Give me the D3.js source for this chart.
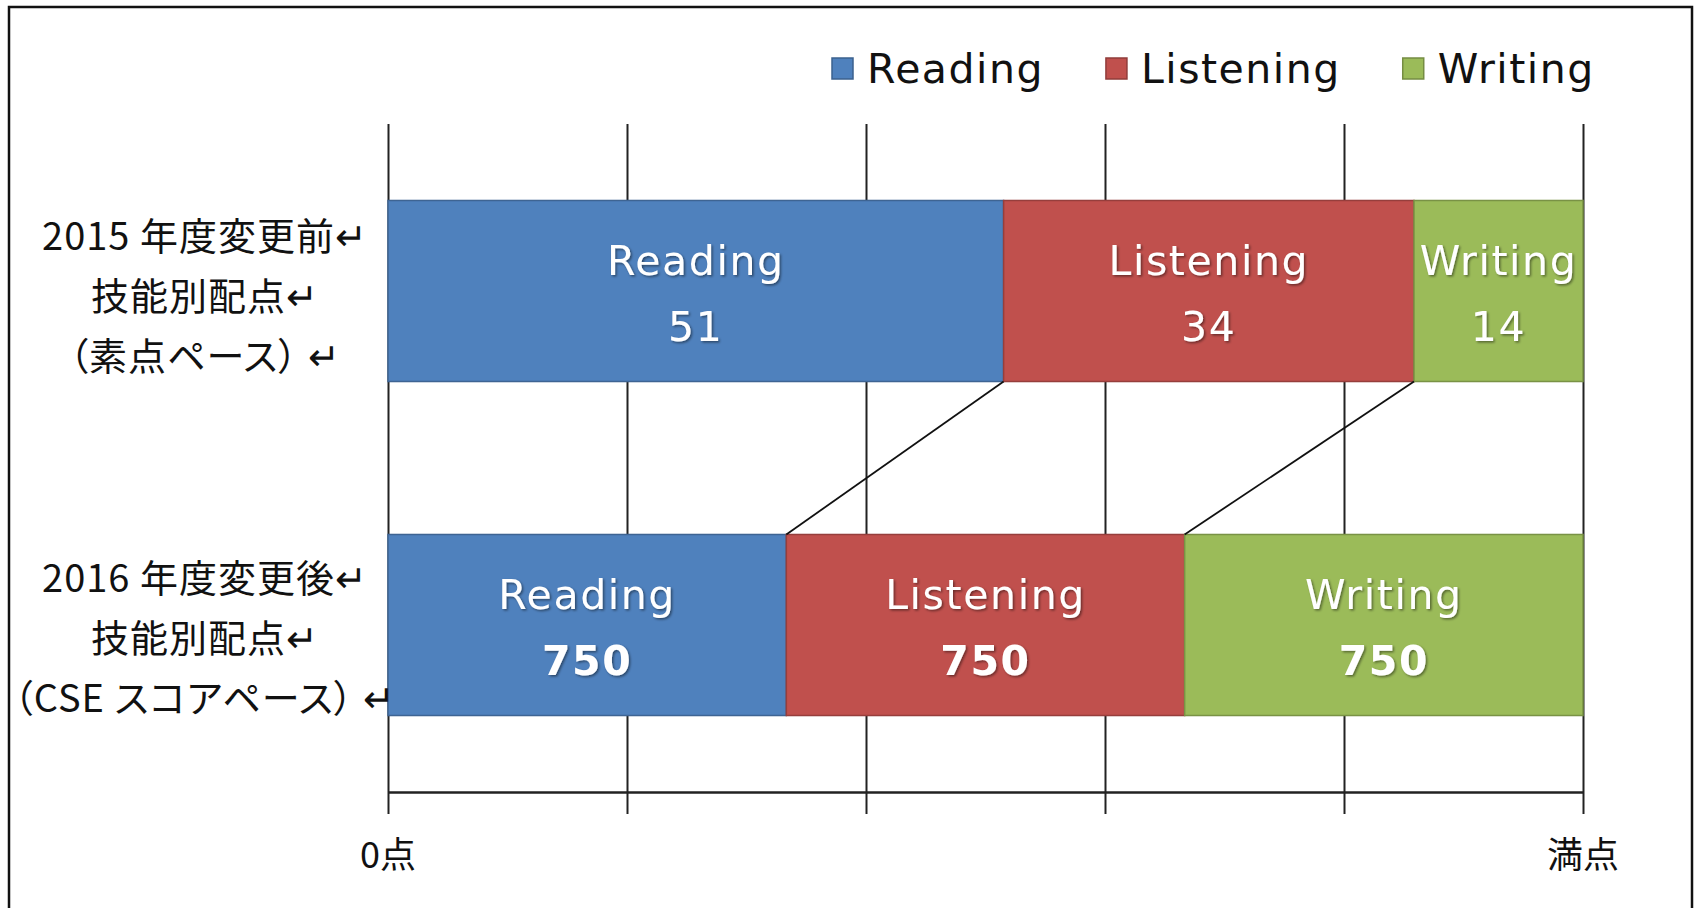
<!DOCTYPE html>
<html>
<head>
<meta charset="utf-8">
<script src="https://cdn.jsdelivr.net/npm/d3@7"></script>
<style>
  html, body { margin: 0; padding: 0; background: #fff; }
  svg { display: block; }
  .cat { font-feature-settings: "palt" 1; }
</style>
</head>
<body>
<div id="chart"></div>
<script>
// data
const categories = ["2015", "2016"];
const categoryLines = [
  ["2015 年度変更前↵", "技能別配点↵", "（素点ペース） ↵"],
  ["2016 年度変更後↵", "技能別配点↵", "（CSE スコアペース） ↵"]
];
const series = ["Reading", "Listening", "Writing"];
const scores2015 = [51, 34, 14];
const scores2016 = [750, 750, 750];
const colors = ["#4F81BD", "#C0504D", "#9BBB59"];
const gridTicks = [0, 0.2, 0.4, 0.6, 0.8, 1];
const endLabels = ["0点", "満点"];

const W = 1694, H = 908;
const plotL = 388, plotR = 1583, plotT = 124, plotB = 792;
const latin = "'DejaVu Sans', Verdana, sans-serif";
const cjk = "'Noto Sans CJK JP', 'Noto Sans', sans-serif";

const rows = categories.map((c, i) => {
  const vals = i === 0 ? scores2015 : scores2016;
  const r = { cat: c };
  series.forEach((s, j) => r[s] = vals[j]);
  return r;
});

const stacked = d3.stack().keys(series).offset(d3.stackOffsetExpand)(rows);

const svg = d3.select("#chart").append("svg")
  .attr("width", W).attr("height", H);

const defs = svg.append("defs");
defs.append("filter").attr("id", "shadow")
  .attr("x", "-10%").attr("y", "-20%").attr("width", "130%").attr("height", "150%")
  .append("feDropShadow")
  .attr("dx", 1.5).attr("dy", 1.5).attr("stdDeviation", 1.2)
  .attr("flood-color", "#000").attr("flood-opacity", 0.45);

// outer frame
svg.append("rect")
  .attr("x", 9).attr("y", 7).attr("width", 1683).attr("height", 1000)
  .attr("fill", "none").attr("stroke", "#111").attr("stroke-width", 2.5);

const x = d3.scaleLinear().domain([0, 1]).range([plotL, plotR]);
const y = d3.scaleBand().domain(categories).range([plotT, plotB])
  .paddingInner(0.458).paddingOuter(0.229);

// gridlines
svg.append("g").attr("class", "grid")
  .attr("transform", "translate(0," + plotB + ")")
  .call(d3.axisBottom(x).tickValues(gridTicks).tickSize(-(plotB - plotT)).tickFormat(""))
  .call(g => g.select(".domain").remove())
  .call(g => g.selectAll("line").attr("stroke", "#222").attr("stroke-width", 2));

// axis line with ticks below
svg.append("g").attr("class", "x axis")
  .attr("transform", "translate(0," + plotB + ")")
  .call(d3.axisBottom(x).tickValues(gridTicks).tickSize(22).tickSizeOuter(0).tickFormat(""))
  .call(g => g.select(".domain").attr("stroke", "#222").attr("stroke-width", 2.5))
  .call(g => g.selectAll("line").attr("stroke", "#222").attr("stroke-width", 2));

// bars
const layer = svg.selectAll("g.layer")
  .data(stacked)
  .enter().append("g")
  .attr("class", "layer")
  .attr("fill", (d, i) => colors[i])
  .attr("stroke", (d, i) => d3.color(colors[i]).darker(0.7))
  .attr("stroke-width", 1.5);

layer.selectAll("rect")
  .data(d => d)
  .enter().append("rect")
  .attr("x", d => x(d[0]))
  .attr("y", d => y(d.data.cat))
  .attr("width", d => x(d[1]) - x(d[0]))
  .attr("height", y.bandwidth());

// connector lines between the two bars
const links = series.slice(0, -1).map((s, i) => ({
  x1: x(stacked[i][0][1]), y1: y(categories[0]) + y.bandwidth(),
  x2: x(stacked[i][1][1]), y2: y(categories[1])
}));
svg.selectAll("line.link")
  .data(links)
  .enter().append("line")
  .attr("class", "link")
  .attr("x1", d => d.x1).attr("y1", d => d.y1)
  .attr("x2", d => d.x2).attr("y2", d => d.y2)
  .attr("stroke", "#111").attr("stroke-width", 1.8);

// in-bar labels
stacked.forEach((layerData, si) => {
  layerData.forEach((d, ci) => {
    const cx = (x(d[0]) + x(d[1])) / 2;
    const cy = y(d.data.cat) + y.bandwidth() / 2;
    const g = svg.append("g").attr("filter", "url(#shadow)")
      .attr("fill", "#fff").attr("font-family", latin).attr("text-anchor", "middle");
    g.append("text").attr("x", cx).attr("y", cy - 16)
      .attr("font-size", 41).attr("letter-spacing", 1.6)
      .text(series[si]);
    g.append("text").attr("x", cx).attr("y", cy + 50)
      .attr("font-size", 41).attr("letter-spacing", 1.6)
      .attr("font-weight", ci === 1 ? "bold" : "normal")
      .text(d.data[series[si]]);
  });
});

// category labels on the left
const blockShift = [5, 13.5];
categories.forEach((c, i) => {
  const cy = y(c) + y.bandwidth() / 2 + blockShift[i];
  svg.append("g").selectAll("text")
    .data(categoryLines[i])
    .enter().append("text")
    .attr("class", "cat")
    .attr("x", 205)
    .attr("y", (d, k) => cy + (k - 1) * 60)
    .attr("dy", "0.36em")
    .attr("text-anchor", "middle")
    .attr("font-family", cjk).attr("font-size", 38).attr("letter-spacing", 1)
    .attr("fill", "#111")
    .text(d => d);
});

// end labels of the axis
svg.selectAll("text.end")
  .data(endLabels)
  .enter().append("text")
  .attr("class", "end")
  .attr("x", (d, i) => x(i))
  .attr("y", 855).attr("dy", "0.36em")
  .attr("text-anchor", "middle")
  .attr("font-family", cjk).attr("font-size", 36).attr("fill", "#111")
  .text(d => d);

// legend
const legend = svg.append("g").attr("class", "legend");
let lx = 832;
series.forEach((s, i) => {
  legend.append("rect")
    .attr("x", lx).attr("y", 58).attr("width", 21).attr("height", 21)
    .attr("fill", colors[i]).attr("stroke", d3.color(colors[i]).darker(0.8)).attr("stroke-width", 1.5);
  const t = legend.append("text")
    .attr("x", lx + 35).attr("y", 68).attr("dy", "0.36em")
    .attr("font-family", latin).attr("font-size", 41).attr("letter-spacing", 1.5)
    .attr("fill", "#111")
    .text(s);
  lx = lx + 35 + t.node().getComputedTextLength() + 62;
});
</script>
</body>
</html>
